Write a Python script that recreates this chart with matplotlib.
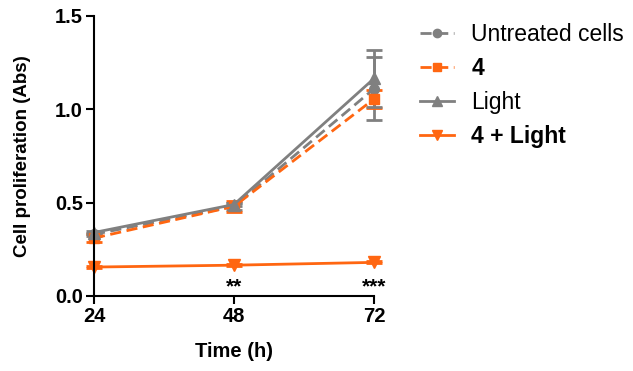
import numpy as np
import matplotlib
matplotlib.use("Agg")
import matplotlib.pyplot as plt
from matplotlib.lines import Line2D

plt.rcParams['font.family'] = ['Liberation Sans', 'DejaVu Sans']

# data
times = [24, 48, 72]
untreated = [0.33, 0.48, 1.11]
untreated_err = [0.01, 0.02, 0.17]
cmpd4 = [0.31, 0.48, 1.055]
cmpd4_err = [0.02, 0.03, 0.05]
light = [0.34, 0.49, 1.165]
light_err = [0.01, 0.01, 0.155]
cmpd4_light = [0.155, 0.165, 0.18]
cmpd4_light_err = [0.005, 0.005, 0.005]
stars = {48: '**', 72: '***'}

gray = '#808080'
orange = '#FF6611'
dash = (0, (4, 2))

fig = plt.figure(figsize=(6.33, 3.71), dpi=100)
ax = fig.add_axes([0.1485, 0.2022, 0.4423, 0.7548])

series = [
    (untreated, untreated_err, gray, 'o', dash, 'Untreated cells', 7),
    (cmpd4, cmpd4_err, orange, 's', dash, '4', 7),
    (light, light_err, gray, '^', '-', 'Light', 8),
    (cmpd4_light, cmpd4_light_err, orange, 'v', '-', '4 + Light', 8),
]
handles = []
for vals, err, col, mk, ls, lab, ms in series:
    eb = ax.errorbar(times, vals, yerr=err, color=col, marker=mk, linestyle=ls,
                     capsize=5.5, elinewidth=2, capthick=2, linewidth=2,
                     markersize=ms)
    for art in eb.get_children():
        art.set_clip_on(False)
    handles.append(Line2D([], [], color=col, marker=mk, linestyle=ls,
                          linewidth=2, markersize=ms - 1, label=lab))

for t, s in stars.items():
    ax.text(t, 0.05, s, ha='center', va='center', fontsize=15, fontweight='bold')

ax.set_xlim(24, 72)
ax.set_ylim(0, 1.5)
ax.set_xticks(times)
ax.set_yticks([0.0, 0.5, 1.0, 1.5])
ax.set_yticklabels(['0.0', '0.5', '1.0', '1.5'])
ax.spines['top'].set_visible(False)
ax.spines['right'].set_visible(False)
for sp in ['left', 'bottom']:
    ax.spines[sp].set_linewidth(1.5)
ax.tick_params(direction='out', width=1.5, length=6, labelsize=14.5, pad=2)
for lab in ax.get_xticklabels() + ax.get_yticklabels():
    lab.set_fontweight('bold')
ax.set_xlabel('Time (h)', fontsize=14.5, fontweight='bold')
ax.set_ylabel('Cell proliferation (Abs)', fontsize=13.5, fontweight='bold')
ax.yaxis.set_label_coords(-0.225, 0.5)
ax.xaxis.set_label_coords(0.5, -0.165)

leg = ax.legend(handles=handles, loc='upper left', bbox_to_anchor=(1.09, 1.05),
                frameon=False, fontsize=16.5, handlelength=1.5,
                handletextpad=0.75, labelspacing=0.48)
for txt in leg.get_texts():
    if txt.get_text().startswith('4'):
        txt.set_fontweight('bold')

fig.savefig('out.png', dpi=100)
